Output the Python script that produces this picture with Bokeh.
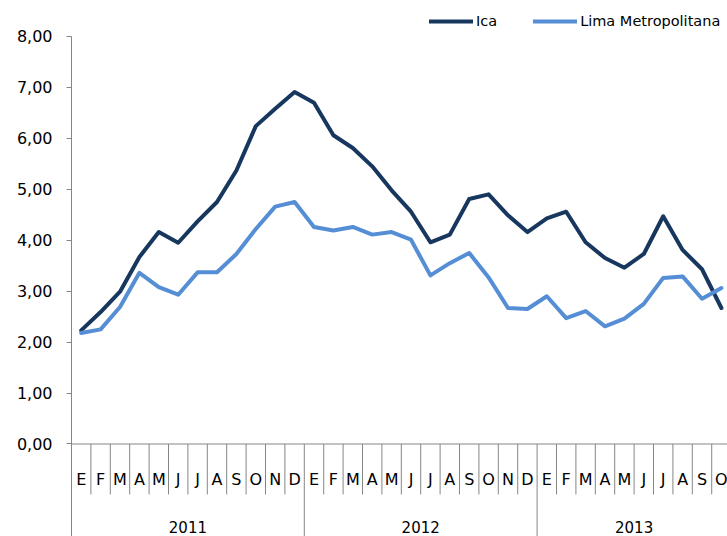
from bokeh.plotting import figure
from bokeh.models import Range1d, FixedTicker, CustomJSTickFormatter, Span, Legend, LegendItem
from bokeh.core.properties import value
from bokeh.embed import file_html
from bokeh.resources import INLINE

# ---- data ----
months = ["E", "F", "M", "A", "M", "J", "J", "A", "S", "O", "N", "D",
          "E", "F", "M", "A", "M", "J", "J", "A", "S", "O", "N", "D",
          "E", "F", "M", "A", "M", "J", "J", "A", "S", "O"]
years = ["2011", "2012", "2013"]
months_per_year = [12, 12, 10]
ica = [2.23, 2.59, 2.99, 3.67, 4.16, 3.95, 4.37, 4.75, 5.37, 6.24, 6.58, 6.91,
       6.70, 6.06, 5.81, 5.45, 4.98, 4.56, 3.96, 4.11, 4.81, 4.90, 4.49, 4.16,
       4.43, 4.56, 3.96, 3.65, 3.46, 3.73, 4.47, 3.81, 3.43, 2.67]
lima = [2.18, 2.25, 2.69, 3.36, 3.08, 2.93, 3.37, 3.37, 3.73, 4.22, 4.66, 4.75,
        4.26, 4.19, 4.26, 4.11, 4.16, 4.01, 3.31, 3.55, 3.75, 3.27, 2.67, 2.65,
        2.90, 2.47, 2.61, 2.31, 2.46, 2.75, 3.26, 3.29, 2.85, 3.06]
y_ticks = [0, 1, 2, 3, 4, 5, 6, 7, 8]
series_names = ["Ica", "Lima Metropolitana"]

# ---- style ----
FONT = "DejaVu Sans"
GRAY = "#868686"
TEXT = "#000000"
C_ICA = "#17375E"
C_LIMA = "#558ED5"
Y_TOP = 8.706
Y_BOTTOM = -1.816
X_START = -0.5
X_END = 33.314
MONTH_LABEL_Y = -0.697
MONTH_SEP_END = -0.99
YEAR_LABEL_Y = -1.745

n = len(months)
x = list(range(n))

p = figure(width=727, height=536,
           x_range=Range1d(X_START, X_END), y_range=Range1d(Y_BOTTOM, Y_TOP),
           output_backend="svg", toolbar_location=None, x_axis_location=None,
           min_border_left=71, min_border_right=0, min_border_top=0, min_border_bottom=0)
p.outline_line_color = None
p.xgrid.visible = False
p.ygrid.visible = False
p.background_fill_color = "white"
p.border_fill_color = "white"

ax = p.yaxis[0]
ax.ticker = FixedTicker(ticks=y_ticks)
ax.formatter = CustomJSTickFormatter(code="return tick.toFixed(2).replace('.', ',');")
ax.bounds = (Y_BOTTOM, max(y_ticks))
ax.axis_line_color = GRAY
ax.axis_line_width = 1
ax.major_tick_line_color = GRAY
ax.major_tick_out = 5
ax.major_tick_in = 0
ax.minor_tick_line_color = None
ax.major_label_standoff = 14
ax.major_label_text_font = FONT
ax.major_label_text_font_size = "16px"
ax.major_label_text_color = TEXT

# horizontal category axis line at 0
p.add_layout(Span(location=0, dimension="width", line_color=GRAY, line_width=1))

# separators between months and between years
year_bounds = []
s = 0
for c in months_per_year[:-1]:
    s += c
    year_bounds.append(s - 0.5)
month_bounds = [i - 0.5 for i in range(1, n) if (i - 0.5) not in year_bounds]
p.segment(x0=month_bounds, y0=[0] * len(month_bounds), x1=month_bounds,
          y1=[MONTH_SEP_END] * len(month_bounds), line_color=GRAY, line_width=1)
p.segment(x0=year_bounds, y0=[0] * len(year_bounds), x1=year_bounds,
          y1=[Y_BOTTOM] * len(year_bounds), line_color=GRAY, line_width=1)

# month labels
p.text(x=x, y=[MONTH_LABEL_Y] * n, text=months, text_align="center", text_baseline="middle",
       text_font=value(FONT), text_font_size=value("16px"), text_color=TEXT)

# year labels
centers = []
s = 0
for c in months_per_year:
    centers.append(s + c / 2 - 0.5)
    s += c
p.text(x=centers, y=[YEAR_LABEL_Y] * len(centers), text=years, text_align="center",
       text_baseline="bottom", text_font=value(FONT), text_font_size=value("15px"),
       text_color=TEXT)

# series
r_ica = p.line(x, ica, line_color=C_ICA, line_width=4, line_join="round", line_cap="round")
r_lima = p.line(x, lima, line_color=C_LIMA, line_width=4, line_join="round", line_cap="round")

legend = Legend(items=[LegendItem(label=series_names[0], renderers=[r_ica]),
                       LegendItem(label=series_names[1], renderers=[r_lima])],
                orientation="horizontal", location=(358, 505),
                glyph_width=44, glyph_height=20, label_standoff=3, spacing=36,
                padding=0, margin=0, border_line_color=None, background_fill_alpha=0,
                label_text_font=FONT, label_text_font_size="14.5px", label_text_color=TEXT)
p.add_layout(legend)

open("out.html", "w").write(file_html(p, INLINE))
